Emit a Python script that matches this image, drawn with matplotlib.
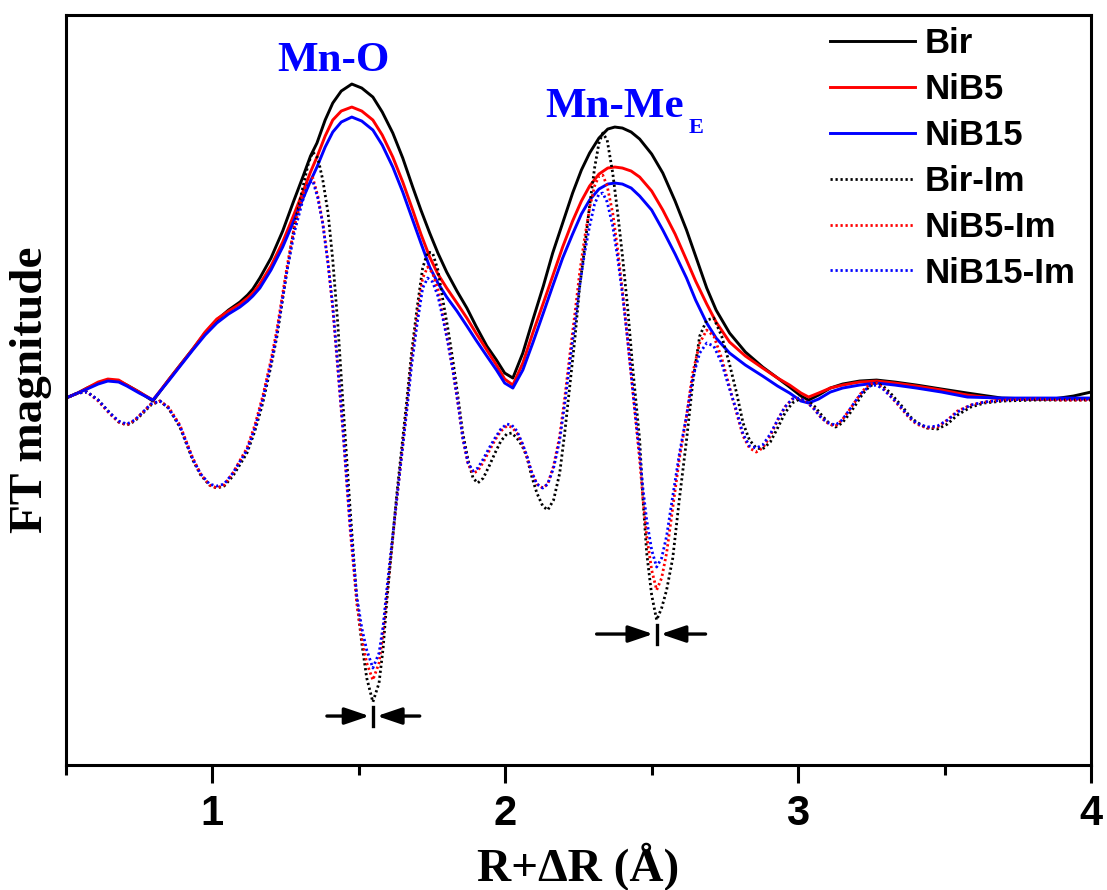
import numpy as np
import matplotlib
matplotlib.use('Agg')
import matplotlib.pyplot as plt

# R + dR (Angstrom) for the magnitude curves
r_mag = [0.5, 0.54, 0.572, 0.61, 0.643, 0.68, 0.708, 0.75, 0.797, 0.85,
         0.89, 0.933, 0.975, 1.015, 1.055, 1.094, 1.12, 1.138, 1.162, 1.20,
         1.24, 1.275, 1.31, 1.335, 1.357, 1.385, 1.411, 1.44, 1.476, 1.51,
         1.548, 1.58, 1.616, 1.65, 1.684, 1.712, 1.742, 1.77, 1.80, 1.835,
         1.869, 1.90, 1.937, 1.97, 1.998, 2.026, 2.06, 2.094, 2.13, 2.162,
         2.196, 2.23, 2.26, 2.288, 2.32, 2.35, 2.374, 2.40, 2.43, 2.459,
         2.50, 2.538, 2.58, 2.619, 2.65, 2.688, 2.72, 2.766, 2.82, 2.879,
         2.93, 2.971, 3.01, 3.036, 3.07, 3.11, 3.152, 3.21, 3.268, 3.33,
         3.404, 3.49, 3.578, 3.695, 3.80, 3.869, 3.94, 4.0]

bir = [0, 0.05, 0.10, 0.15, 0.18, 0.17, 0.13, 0.06, -0.03, 0.18,
       0.33, 0.49, 0.65, 0.78, 0.88, 0.96, 1.03, 1.09, 1.20, 1.40,
       1.67, 1.95, 2.22, 2.42, 2.55, 2.78, 2.95, 3.07, 3.14, 3.10,
       3.01, 2.86, 2.65, 2.40, 2.11, 1.88, 1.65, 1.45, 1.26, 1.07,
       0.90, 0.72, 0.52, 0.38, 0.25, 0.20, 0.45, 0.78, 1.12, 1.45,
       1.75, 2.05, 2.28, 2.45, 2.60, 2.69, 2.71, 2.70, 2.66, 2.59,
       2.44, 2.25, 1.97, 1.68, 1.42, 1.10, 0.88, 0.65, 0.46, 0.31,
       0.20, 0.11, 0.02, -0.02, 0.03, 0.10, 0.14, 0.17, 0.18, 0.16,
       0.13, 0.09, 0.05, 0.0, -0.01, -0.01, 0.02, 0.06]

nib5 = [0, 0.05, 0.10, 0.16, 0.19, 0.18, 0.13, 0.06, -0.02, 0.18,
        0.33, 0.49, 0.66, 0.79, 0.87, 0.94, 1.00, 1.05, 1.14, 1.32,
        1.56, 1.81, 2.07, 2.26, 2.41, 2.62, 2.78, 2.87, 2.91, 2.87,
        2.78, 2.63, 2.41, 2.16, 1.88, 1.64, 1.41, 1.24, 1.10, 0.95,
        0.80, 0.65, 0.48, 0.33, 0.19, 0.13, 0.35, 0.65, 0.95, 1.22,
        1.51, 1.77, 1.97, 2.12, 2.24, 2.30, 2.31, 2.30, 2.27, 2.21,
        2.07, 1.88, 1.64, 1.38, 1.17, 0.94, 0.76, 0.56, 0.42, 0.30,
        0.20, 0.13, 0.05, 0.01, 0.05, 0.10, 0.13, 0.16, 0.17, 0.15,
        0.12, 0.08, 0.03, -0.01, -0.01, -0.01, -0.01, -0.01]

nib15 = [0, 0.05, 0.09, 0.14, 0.17, 0.16, 0.12, 0.05, -0.02, 0.17,
         0.32, 0.48, 0.63, 0.75, 0.84, 0.91, 0.97, 1.02, 1.10, 1.28,
         1.51, 1.75, 2.00, 2.17, 2.31, 2.51, 2.66, 2.76, 2.81, 2.77,
         2.68, 2.53, 2.31, 2.06, 1.78, 1.55, 1.31, 1.15, 1.01, 0.87,
         0.72, 0.58, 0.42, 0.28, 0.15, 0.10, 0.28, 0.55, 0.85, 1.12,
         1.40, 1.64, 1.84, 1.98, 2.09, 2.14, 2.15, 2.14, 2.10, 2.02,
         1.88, 1.68, 1.44, 1.20, 0.98, 0.75, 0.60, 0.45, 0.33, 0.22,
         0.12, 0.05, -0.03, -0.05, -0.01, 0.06, 0.10, 0.13, 0.15, 0.13,
         0.10, 0.06, 0.01, 0.0, 0.0, 0.0, 0.0, 0.0]

# R + dR for the imaginary parts
r_im = [0.500, 0.540, 0.572, 0.610, 0.650, 0.680, 0.708, 0.735, 0.763, 0.790,
        0.821, 0.850, 0.889, 0.933, 0.960, 0.990, 1.015, 1.040, 1.070, 1.118,
        1.145, 1.172, 1.200, 1.220, 1.254, 1.280, 1.309, 1.328, 1.343, 1.360,
        1.377, 1.395, 1.411, 1.428, 1.445, 1.470, 1.493, 1.510, 1.527, 1.548,
        1.569, 1.583, 1.596, 1.630, 1.664, 1.680, 1.698, 1.718, 1.735, 1.752,
        1.770, 1.787, 1.805, 1.821, 1.840, 1.855, 1.873, 1.890, 1.906, 1.925,
        1.945, 1.965, 1.985, 2.005, 2.022, 2.040, 2.058, 2.073, 2.090, 2.108,
        2.128, 2.145, 2.165, 2.186, 2.203, 2.220, 2.238, 2.254, 2.271, 2.288,
        2.305, 2.320, 2.333, 2.348, 2.367, 2.384, 2.401, 2.418, 2.435, 2.447,
        2.459, 2.470, 2.483, 2.500, 2.517, 2.534, 2.551, 2.572, 2.595, 2.619,
        2.640, 2.664, 2.688, 2.712, 2.739, 2.765, 2.790, 2.812, 2.834, 2.857,
        2.879, 2.905, 2.930, 2.955, 2.980, 3.005, 3.030, 3.055, 3.080, 3.105,
        3.128, 3.150, 3.175, 3.196, 3.220, 3.245, 3.268, 3.290, 3.315, 3.336,
        3.360, 3.380, 3.404, 3.440, 3.476, 3.510, 3.544, 3.590, 3.636, 3.700,
        3.811, 3.900, 4.000]

bir_im = [0, 0.05, 0.06, -0.02, -0.15, -0.24, -0.27, -0.23, -0.15, -0.07,
          -0.03, -0.10, -0.29, -0.62, -0.77, -0.87, -0.90, -0.88, -0.78, -0.55,
          -0.33, -0.05, 0.32, 0.61, 1.26, 1.72, 2.11, 2.35, 2.46, 2.40,
          2.18, 1.85, 1.38, 0.75, -0.02, -1.10, -2.02, -2.45, -2.80, -3.04,
          -2.85, -2.50, -2.02, -0.95, -0.02, 0.45, 0.88, 1.30, 1.46, 1.45,
          1.28, 0.98, 0.68, 0.38, -0.02, -0.35, -0.62, -0.80, -0.85, -0.80,
          -0.68, -0.55, -0.43, -0.36, -0.35, -0.40, -0.48, -0.58, -0.78, -0.95,
          -1.08, -1.12, -1.02, -0.75, -0.35, 0.11, 0.60, 1.11, 1.50, 1.92,
          2.30, 2.55, 2.65, 2.58, 2.25, 1.85, 1.40, 0.90, 0.31, -0.05,
          -0.42, -1.00, -1.55, -1.97, -2.22, -2.10, -1.92, -1.60, -1.00, -0.42,
          0.15, 0.62, 0.78, 0.80, 0.62, 0.35, 0.05, -0.25, -0.42, -0.50,
          -0.51, -0.44, -0.30, -0.15, -0.05, -0.01, -0.02, -0.08, -0.17, -0.25,
          -0.29, -0.25, -0.16, -0.07, 0.04, 0.12, 0.15, 0.12, 0.05, -0.02,
          -0.10, -0.18, -0.24, -0.30, -0.31, -0.26, -0.17, -0.09, -0.05, -0.03,
          -0.02, -0.02, -0.02]

nib5_im = [0, 0.05, 0.06, -0.03, -0.16, -0.24, -0.27, -0.22, -0.14, -0.06,
           -0.03, -0.09, -0.27, -0.60, -0.76, -0.87, -0.90, -0.87, -0.75, -0.50,
           -0.27, 0.02, 0.38, 0.68, 1.30, 1.72, 2.03, 2.20, 2.20, 2.02,
           1.75, 1.35, 0.90, 0.30, -0.30, -1.30, -2.05, -2.40, -2.65, -2.82,
           -2.65, -2.35, -1.95, -1.00, -0.10, 0.38, 0.80, 1.20, 1.31, 1.25,
           1.08, 0.82, 0.55, 0.28, -0.08, -0.40, -0.66, -0.75, -0.73, -0.64,
           -0.53, -0.42, -0.33, -0.28, -0.29, -0.35, -0.46, -0.58, -0.74, -0.86,
           -0.90, -0.86, -0.68, -0.38, 0.00, 0.42, 0.85, 1.25, 1.60, 1.90,
           2.12, 2.22, 2.23, 2.12, 1.85, 1.48, 1.05, 0.58, 0.08, -0.28,
           -0.62, -1.00, -1.38, -1.72, -1.92, -1.80, -1.55, -1.10, -0.60, -0.18,
           0.25, 0.55, 0.68, 0.62, 0.40, 0.12, -0.15, -0.38, -0.50, -0.54,
           -0.50, -0.38, -0.22, -0.09, -0.01, 0.00, -0.04, -0.11, -0.20, -0.26,
           -0.28, -0.22, -0.12, -0.03, 0.07, 0.14, 0.15, 0.10, 0.02, -0.05,
           -0.13, -0.20, -0.26, -0.30, -0.29, -0.22, -0.13, -0.07, -0.04, -0.02,
           -0.01, -0.02, -0.02]

nib15_im = [0, 0.05, 0.06, -0.02, -0.15, -0.23, -0.26, -0.22, -0.14, -0.06,
            -0.03, -0.10, -0.28, -0.61, -0.76, -0.86, -0.88, -0.86, -0.75, -0.52,
            -0.30, -0.01, 0.35, 0.64, 1.26, 1.66, 1.98, 2.15, 2.17, 2.00,
            1.74, 1.34, 0.92, 0.33, -0.28, -1.25, -1.98, -2.30, -2.52, -2.70,
            -2.55, -2.28, -1.90, -1.00, -0.12, 0.32, 0.72, 1.10, 1.20, 1.16,
            1.02, 0.80, 0.54, 0.28, -0.08, -0.40, -0.65, -0.73, -0.70, -0.61,
            -0.50, -0.40, -0.31, -0.26, -0.27, -0.33, -0.45, -0.57, -0.74, -0.86,
            -0.90, -0.86, -0.70, -0.42, -0.06, 0.34, 0.75, 1.12, 1.45, 1.72,
            1.94, 2.04, 2.05, 1.96, 1.72, 1.40, 1.02, 0.58, 0.10, -0.24,
            -0.56, -0.90, -1.22, -1.52, -1.69, -1.60, -1.38, -0.98, -0.55, -0.18,
            0.20, 0.45, 0.55, 0.52, 0.35, 0.10, -0.13, -0.36, -0.48, -0.50,
            -0.47, -0.36, -0.22, -0.09, -0.01, 0.00, -0.04, -0.11, -0.20, -0.25,
            -0.27, -0.22, -0.12, -0.03, 0.06, 0.12, 0.13, 0.09, 0.02, -0.04,
            -0.12, -0.19, -0.25, -0.29, -0.28, -0.22, -0.14, -0.07, -0.04, -0.02,
            -0.01, -0.01, -0.01]

fig = plt.figure(figsize=(11.07, 8.90), dpi=100)
ax = fig.add_axes([0.0596, 0.1404, 0.9259, 0.8427])

ax.plot(r_mag, bir, color='black', lw=2.1, label='Bir')
ax.plot(r_mag, nib5, color='red', lw=2.1, label='NiB5')
ax.plot(r_mag, nib15, color='blue', lw=2.1, label='NiB15')

dots = (0, (0.8, 1.0))
ax.plot(r_im, bir_im, color='black', lw=2.0, ls=dots, label='Bir-Im')
ax.plot(r_im, nib5_im, color='red', lw=2.0, ls=dots, label='NiB5-Im')
ax.plot(r_im, nib15_im, color='blue', lw=2.0, ls=dots, label='NiB15-Im')

ax.set_xlim(0.5, 4.0)
ax.set_ylim(-3.67, 3.83)


def shift_marker(x0, y0, left, right):
    # two arrows pointing at the minimum with a short bar between them
    y = y0 - 0.14
    style = dict(arrowstyle='-|>,head_length=0.5,head_width=0.17', color='black',
                 lw=2.4, mutation_scale=30, shrinkA=0, shrinkB=0)
    ax.annotate('', xy=(x0 - 0.012, y), xytext=(x0 - left, y), arrowprops=style)
    ax.annotate('', xy=(x0 + 0.014, y), xytext=(x0 + right, y), arrowprops=style)
    ax.plot([x0, x0], [y + 0.09, y - 0.10], color='black', lw=2.4)


r_arr = np.array(r_im)
y_arr = np.array(bir_im)
for lo, hi, left, right in [(1.3, 1.8, 0.157, 0.160), (2.3, 2.8, 0.205, 0.167)]:
    sel = (r_arr > lo) & (r_arr < hi)
    i = np.argmin(y_arr[sel])
    shift_marker(r_arr[sel][i], y_arr[sel][i], left, right)

ax.text(1.415, 3.27, 'Mn-O', color='blue', fontsize=31, fontweight='bold',
        family='Liberation Serif', ha='center', va='baseline')
ax.text(2.135, 2.81, 'Mn-Me', color='blue', fontsize=31, fontweight='bold',
        family='Liberation Serif', ha='left', va='baseline')
ax.text(2.625, 2.65, 'E', color='blue', fontsize=16, fontweight='bold',
        family='Liberation Serif', ha='left', va='baseline')

ax.set_xticks([1, 2, 3, 4])
ax.set_xticks([0.5, 1.5, 2.5, 3.5], minor=True)
ax.set_yticks([])
ax.tick_params(axis='x', which='major', direction='out', length=13, width=2.2, pad=8)
ax.tick_params(axis='x', which='minor', direction='out', length=7, width=2.2)
for lbl in ax.get_xticklabels():
    lbl.set_fontfamily('Liberation Sans')
    lbl.set_fontweight('bold')
    lbl.set_fontsize(30)
for sp in ax.spines.values():
    sp.set_linewidth(2.2)

ax.set_xlabel('R+ΔR (Å)', family='Liberation Serif', fontweight='bold',
              fontsize=34, labelpad=6)
ax.set_ylabel('FT magnitude', family='Liberation Serif', fontweight='bold',
              fontsize=34, labelpad=10)

leg = ax.legend(loc='upper right', bbox_to_anchor=(1.009, 1.016), frameon=False,
                handlelength=2.45, handletextpad=0.3, labelspacing=0.37,
                borderaxespad=0.3,
                prop={'family': 'Liberation Sans', 'weight': 'bold', 'size': 25})

fig.savefig('out.png', dpi=100)
